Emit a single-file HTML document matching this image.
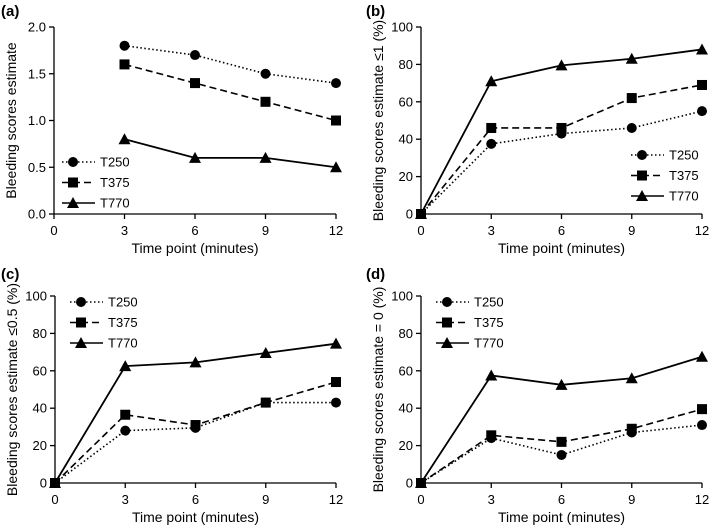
<!DOCTYPE html>
<html><head><meta charset="utf-8">
<style>
html,body{margin:0;padding:0;background:#fff;}
svg{display:block;font-family:"Liberation Sans",Arial,sans-serif;}
</style></head>
<body>
<svg id="fig" width="710" height="527" viewBox="0 0 710 527"></svg>
<script>
const times=[0,3,6,9,12];
const seriesNames=["T250","T375","T770"];
// Panel a (starts at minute 3)
const aTimes=[3,6,9,12];
const aT250=[1.8,1.7,1.5,1.4];
const aT375=[1.6,1.4,1.2,1.0];
const aT770=[0.8,0.6,0.6,0.5];
const aTicks=["0.0","0.5","1.0","1.5","2.0"];
// Panel b
const bT250=[0,37.5,43,46,55];
const bT375=[0,46,46,62,69];
const bT770=[0,71,79.5,83,88];
// Panel c
const cT250=[0,28,29.5,43,43];
const cT375=[0,36.5,31,43,54];
const cT770=[0,62.5,64.5,69.5,74.5];
// Panel d
const dT250=[0,24,15,27,31];
const dT375=[0,25.5,22,29,39.5];
const dT770=[0,57.5,52.5,56,67.5];
const pctTicks=["0","20","40","60","80","100"];
const xTicks=["0","3","6","9","12"];

const NS="http://www.w3.org/2000/svg";
const svg=document.getElementById('fig');
function mk(tag,attrs,parent){const e=document.createElementNS(NS,tag);for(const k in attrs)e.setAttribute(k,attrs[k]);(parent||svg).appendChild(e);return e;}
const dashes=["1.5,2.5","7,4",""];

function marker(g,type,x,y){
  let m;
  if(type===0)m=mk('circle',{cx:x,cy:y,r:5,fill:'#000'},g);
  else if(type===1)m=mk('rect',{x:x-5,y:y-5,width:10,height:10,fill:'#000'},g);
  else m=mk('polygon',{points:`${x},${y-6} ${x-6},${y+5} ${x+6},${y+5}`,fill:'#000'},g);
  return m;
}

function panel(o){
  const g=mk('g',{});
  
  
  const sx=v=>o.x0+(v/12)*(o.x1-o.x0);
  const sy=v=>o.y0-(v/o.ymax)*(o.y0-o.y1);
  const lab=mk('text',{x:o.lx,y:o.ly,'font-size':15,'font-weight':'bold'},g);lab.textContent='('+o.id+')';
  
  const ax=mk('g',{stroke:'#000','stroke-width':1.3},g);
  
  mk('line',{x1:o.x0,y1:o.y1,x2:o.x0,y2:o.y0},ax);
  mk('line',{x1:o.x0,y1:o.y0,x2:o.x1,y2:o.y0},ax);
  o.yt.forEach((t,i)=>{const v=o.ymax*i/(o.yt.length-1);const y=sy(v);
    mk('line',{x1:o.x0-5,y1:y,x2:o.x0,y2:y},ax);
    const tx=mk('text',{x:o.x0-8,y:y+4.5,'font-size':13,'text-anchor':'end'},g);tx.textContent=t;
    });
  xTicks.forEach(t=>{const x=sx(+t);
    mk('line',{x1:x,y1:o.y0,x2:x,y2:o.y0+5},ax);
    const tx=mk('text',{x:x,y:o.y0+21,'font-size':13,'text-anchor':'middle'},g);tx.textContent=t;
    });
  const xt=mk('text',{x:(o.x0+o.x1)/2,y:o.y0+39,'font-size':14,'text-anchor':'middle'},g);xt.textContent='Time point (minutes)';
  
  const yc=(o.y0+o.y1)/2;
  const yt=mk('text',{x:0,y:0,'font-size':14,'text-anchor':'middle',transform:`translate(${o.x0-38},${yc}) rotate(-90)`},g);yt.textContent=o.ytitle;
  
  o.series.forEach((vals,s)=>{
    const sg=mk('g',{},g);
    
    const pts=vals.map((v,i)=>sx(o.t[i])+','+sy(v)).join(' ');
    mk('polyline',{points:pts,fill:'none',stroke:'#000','stroke-width':s===2?1.8:1.6,'stroke-dasharray':dashes[s]},sg);
    vals.forEach((v,i)=>{const m=marker(sg,s,sx(o.t[i]),sy(v));
      });
  });
  const lg=mk('g',{},g);
  
  seriesNames.forEach((n,s)=>{const y=o.legY+s*20.5;
    const eg=mk('g',{},lg);
    
    mk('line',{x1:o.legX,y1:y,x2:o.legX+33,y2:y,stroke:'#000','stroke-width':1.6,'stroke-dasharray':dashes[s]},eg);
    marker(eg,s,o.legX+11,y);
    const t=mk('text',{x:o.legX+38,y:y+4.5,'font-size':13},eg);t.textContent=n;});
}

panel({id:'a',x0:54,x1:336,y0:214,y1:27,ymax:2,yt:aTicks,t:aTimes,series:[aT250,aT375,aT770],lx:1,ly:16,
  ytitle:'Bleeding scores estimate',legX:62,legY:162});
panel({id:'b',x0:421,x1:702,y0:214,y1:27,ymax:100,yt:pctTicks,t:times,series:[bT250,bT375,bT770],lx:366,ly:16,
  ytitle:'Bleeding scores estimate \u22641 (%)',legX:631,legY:155});
panel({id:'c',x0:55,x1:336,y0:483,y1:296,ymax:100,yt:pctTicks,t:times,series:[cT250,cT375,cT770],lx:1,ly:279,
  ytitle:'Bleeding scores estimate \u22640.5 (%)',legX:70,legY:302});
panel({id:'d',x0:421,x1:702,y0:483,y1:296,ymax:100,yt:pctTicks,t:times,series:[dT250,dT375,dT770],lx:366,ly:279,
  ytitle:'Bleeding scores estimate = 0 (%)',legX:436,legY:302});
</script>
</body></html>
